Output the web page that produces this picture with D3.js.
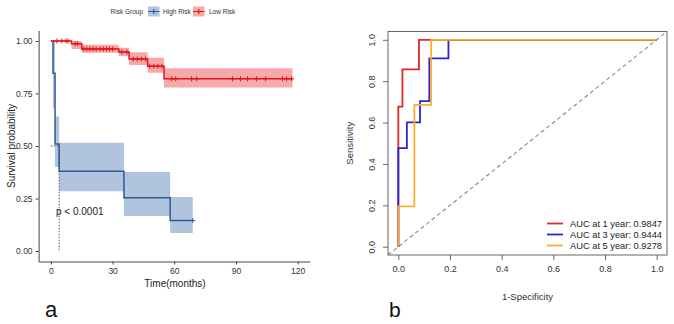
<!DOCTYPE html>
<html>
<head>
<meta charset="utf-8">
<script src="https://cdn.jsdelivr.net/npm/d3@7"></script>
<style>
  body { margin: 0; background: #fff; }
  svg { font-family: "Liberation Sans", Arial, sans-serif; }
</style>
</head>
<body>
<svg width="674" height="324"></svg>
<script>
const svg = d3.select("svg");

// ---- panel a: Kaplan-Meier data ----
const highTimes = [0, 1, 2, 4, 35.5, 58];
const highSurv  = [1, 0.846, 0.51, 0.38, 0.253, 0.145];
const highUpper = [1, 1, 0.64, 0.515, 0.376, 0.257];
const highLower = [1, 0.68, 0.40, 0.285, 0.167, 0.086];
const highEnd = 69;
const highCensor = [69];

const lowTimes = [0, 10, 15, 33, 38, 47, 55];
const lowSurv  = [1, 0.987, 0.962, 0.948, 0.914, 0.880, 0.820];
const lowUpper = [1, 1, 0.982, 0.968, 0.946, 0.920, 0.870];
const lowLower = [1, 0.962, 0.944, 0.929, 0.886, 0.849, 0.778];
const lowEnd = 117.5;
const lowCensor = [2.9, 5.3, 7.3, 8.3, 11.7, 12.9,
  16, 17.5, 19, 20.5, 22, 24, 25.5, 27, 28.5, 30,
  34.5, 37, 40, 42, 44, 46, 48, 50, 52, 54,
  58.7, 60.7, 68.4, 70.9, 88.3, 92.2, 95.6, 100, 104.4, 112.6, 114.6, 117];

const medianTime = 4;
const xTicksA = [0, 30, 60, 90, 120];
const yTicksA = [0, 0.25, 0.5, 0.75, 1];
const groups = ["High Risk", "Low Risk"];

// ---- panel b: ROC data ----
const rocLabels = ["AUC at 1 year: 0.9847", "AUC at 3 year: 0.9444", "AUC at 5 year: 0.9278"];
const roc1Fpr = [0, 0, 0.016, 0.016, 0.080, 0.080, 1];
const roc1Tpr = [0, 0.677, 0.677, 0.857, 0.857, 1, 1];
const roc3Fpr = [0, 0, 0.033, 0.033, 0.084, 0.084, 0.120, 0.120, 0.194, 0.194, 1];
const roc3Tpr = [0, 0.476, 0.476, 0.601, 0.601, 0.704, 0.704, 0.910, 0.910, 1, 1];
const roc5Fpr = [0, 0, 0.062, 0.062, 0.127, 0.127, 1];
const roc5Tpr = [0, 0.195, 0.195, 0.685, 0.685, 1, 1];
const ticksB = [0, 0.2, 0.4, 0.6, 0.8, 1];

const redC = "#e8141c", blueC = "#2d5b95";
const redBand = "#f5a9a9", blueBand = "#b0c4de";

// ===== panel a =====
const xA = d3.scaleLinear().domain([-6, 126]).range([38.6, 310]);
const yA = d3.scaleLinear().domain([-0.05, 1.05]).range([261.5, 30.5]);

function steps(times, vals, end) {
  const pts = times.map((t, i) => [t, vals[i]]);
  pts.push([end, vals[vals.length - 1]]);
  return pts;
}
function bandPts(times, lo, hi, end) {
  const pts = times.map((t, i) => ({t: t, lo: lo[i], hi: hi[i]}));
  pts.push({t: end, lo: lo[lo.length - 1], hi: hi[hi.length - 1]});
  return pts;
}
function survAt(times, vals, t) {
  let v = vals[0];
  times.forEach((tt, i) => { if (tt <= t) v = vals[i]; });
  return v;
}

const area = d3.area().curve(d3.curveStepAfter)
  .x(d => xA(d.t)).y0(d => yA(d.lo)).y1(d => yA(d.hi));
const line = d3.line().curve(d3.curveStepAfter)
  .x(d => xA(d[0])).y(d => yA(d[1]));

const gA = svg.append("g");
gA.append("path").datum(bandPts(highTimes, highLower, highUpper, highEnd))
  .attr("d", area).attr("fill", blueBand);
gA.append("path").datum(bandPts(lowTimes, lowLower, lowUpper, lowEnd))
  .attr("d", area).attr("fill", redBand);

// median lines
gA.append("path")
  .attr("d", `M${xA(0)},${yA(0.5)}H${xA(medianTime)}V${yA(0)}`)
  .attr("fill", "none").attr("stroke", "#333").attr("stroke-width", 0.8)
  .attr("stroke-dasharray", "1.5,1.5");

gA.append("path").datum(steps(highTimes, highSurv, highEnd))
  .attr("d", line).attr("fill", "none").attr("stroke", blueC).attr("stroke-width", 1.5);
gA.append("path").datum(steps(lowTimes, lowSurv, lowEnd))
  .attr("d", line).attr("fill", "none").attr("stroke", redC).attr("stroke-width", 1.5);

function censor(g, ts, times, vals, col) {
  g.selectAll(null).data(ts).join("path")
    .attr("d", t => {
      const x = xA(t), y = yA(survAt(times, vals, t));
      return `M${x - 2.5},${y}H${x + 2.5}M${x},${y - 2.5}V${y + 2.5}`;
    })
    .attr("stroke", col).attr("stroke-width", 1);
}
censor(gA, lowCensor, lowTimes, lowSurv, redC);
censor(gA, highCensor, highTimes, highSurv, blueC);

gA.append("text").attr("x", 56).attr("y", 214.5)
  .attr("font-size", 10).attr("fill", "#222").text("p < 0.0001");

const axA = gA.append("g").attr("transform", `translate(0,${yA(-0.05)})`)
  .call(d3.axisBottom(xA).tickValues(xTicksA).tickSize(3).tickSizeOuter(0));
const ayA = gA.append("g").attr("transform", `translate(${xA(-6)},0)`)
  .call(d3.axisLeft(yA).tickValues(yTicksA).tickFormat(d3.format(".2f")).tickSize(3).tickSizeOuter(0));
[axA, ayA].forEach(a => {
  a.select(".domain").attr("stroke", "#444").attr("stroke-width", 1);
  a.selectAll(".tick line").attr("stroke", "#444");
  a.selectAll("text").attr("font-size", 8.5).attr("fill", "#333")
    .attr("font-family", "Liberation Sans, Arial, sans-serif");
});

gA.append("text").attr("x", 175).attr("y", 287).attr("text-anchor", "middle")
  .attr("font-size", 10).attr("fill", "#222").text("Time(months)");
gA.append("text").attr("transform", "translate(15,146) rotate(-90)")
  .attr("text-anchor", "middle").attr("font-size", 10).attr("fill", "#222")
  .text("Survival probability");

// legend
const lg = gA.append("g").attr("font-size", 6.5).attr("fill", "#333");
lg.append("text").attr("x", 110.5).attr("y", 14.3).text("Risk Group");
[[blueBand, blueC, 148, 163], [redBand, redC, 193, 209]].forEach((k, i) => {
  lg.append("rect").attr("x", k[2]).attr("y", 6.5).attr("width", 11.5).attr("height", 10).attr("fill", k[0]);
  lg.append("path").attr("d", `M${k[2]},11.5h11.5M${k[2] + 5.75},9v5`)
    .attr("stroke", k[1]).attr("stroke-width", 1.2);
  lg.append("text").attr("x", k[3]).attr("y", 14.3).text(groups[i]);
});

gA.append("text").attr("x", 45).attr("y", 317).attr("font-size", 22)
  .attr("fill", "#111").text("a");

// ===== panel b =====
const xB = d3.scaleLinear().domain([-0.04, 1.04]).range([388, 667]);
const yB = d3.scaleLinear().domain([-0.04, 1.04]).range([255, 31.5]);
const gB = svg.append("g");

gB.append("line")
  .attr("x1", xB(-0.04)).attr("y1", yB(-0.04)).attr("x2", xB(1.04)).attr("y2", yB(1.04))
  .attr("stroke", "#888").attr("stroke-width", 1.1).attr("stroke-dasharray", "4,3");

const rocLine = d3.line().x(d => xB(d[0])).y(d => yB(d[1]));
const rocs = [[roc1Fpr, roc1Tpr, "#e3242b"], [roc3Fpr, roc3Tpr, "#2626d6"], [roc5Fpr, roc5Tpr, "#fbad2d"]];
rocs.forEach(r => {
  gB.append("path").datum(r[0].map((f, i) => [f, r[1][i]]))
    .attr("d", rocLine).attr("fill", "none").attr("stroke", r[2]).attr("stroke-width", 1.8);
});

gB.append("rect").attr("x", xB(-0.04)).attr("y", yB(1.04))
  .attr("width", xB(1.04) - xB(-0.04)).attr("height", yB(-0.04) - yB(1.04))
  .attr("fill", "none").attr("stroke", "#666").attr("stroke-width", 1);

const axB = gB.append("g").attr("transform", `translate(0,${yB(-0.04)})`)
  .call(d3.axisBottom(xB).tickValues(ticksB).tickFormat(d3.format(".1f")).tickSize(5).tickSizeOuter(0));
const ayB = gB.append("g").attr("transform", `translate(${xB(-0.04)},0)`)
  .call(d3.axisLeft(yB).tickValues(ticksB).tickFormat(d3.format(".1f")).tickSize(5).tickSizeOuter(0));
[axB, ayB].forEach(a => {
  a.select(".domain").remove();
  a.selectAll(".tick line").attr("stroke", "#666");
  a.selectAll("text").attr("font-size", 9).attr("fill", "#333")
    .attr("font-family", "Liberation Sans, Arial, sans-serif");
});
axB.selectAll("text").attr("dy", "0.6em").attr("y", 12);
ayB.selectAll("text").attr("x", 0).attr("dy", 0)
  .attr("transform", "translate(-15,0) rotate(-90)").attr("text-anchor", "middle")
  .attr("dominant-baseline", "middle");

gB.append("text").attr("x", (xB(-0.04) + xB(1.04)) / 2).attr("y", 300)
  .attr("text-anchor", "middle").attr("font-size", 9.5).attr("fill", "#333").text("1-Specificity");
gB.append("text").attr("transform", `translate(353,${(yB(-0.04) + yB(1.04)) / 2}) rotate(-90)`)
  .attr("text-anchor", "middle").attr("font-size", 9.5).attr("fill", "#333").text("Sensitivity");

rocLabels.forEach((lab, i) => {
  const y = 223.5 + i * 11;
  gB.append("line").attr("x1", 547).attr("x2", 563).attr("y1", y).attr("y2", y)
    .attr("stroke", rocs[i][2]).attr("stroke-width", 1.8);
  gB.append("text").attr("x", 570).attr("y", y + 3.3).attr("font-size", 9.3)
    .attr("fill", "#222").text(lab);
});

gB.append("text").attr("x", 389).attr("y", 317).attr("font-size", 21)
  .attr("fill", "#111").text("b");
</script>
</body>
</html>
